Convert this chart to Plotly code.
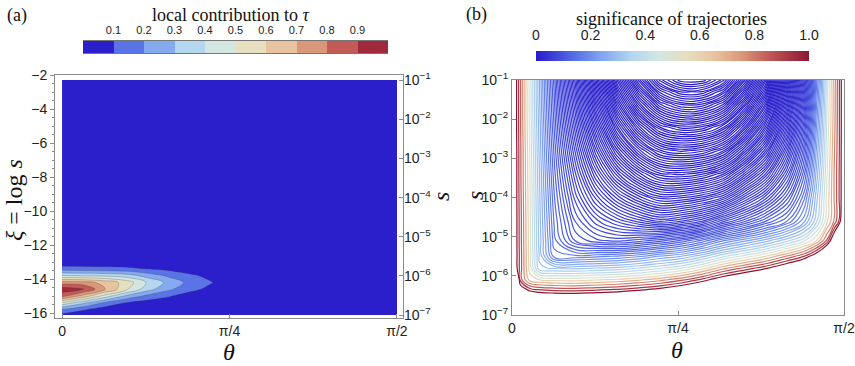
import numpy as np
import plotly.graph_objects as go
from plotly.colors import sample_colorscale

W, H = 855, 366
SERIF = "Liberation Serif, DejaVu Serif, serif"
SANS = "Liberation Sans, Arial, sans-serif"

# ---------------- panel (a): local contribution to tau ----------------
theta_a = [0, 0.1, 0.2, 0.3, 0.4, 0.5, 0.6, 0.7, 0.8, 1.0, np.pi / 2]
xi_a = [-16.12, -15.8, -15.4, -15.0, -14.6, -14.2, -13.8, -13.4, -13.0, -12.6, -2.3]
# rows follow xi_a, columns follow theta_a
tau_local = [
    [0.07, 0.03, 0.01, 0, 0, 0, 0, 0, 0, 0, 0],
    [0.19, 0.11, 0.04, 0.02, 0.01, 0, 0, 0, 0, 0, 0],
    [0.48, 0.32, 0.18, 0.09, 0.05, 0.03, 0.01, 0, 0, 0, 0],
    [0.83, 0.66, 0.46, 0.28, 0.17, 0.11, 0.05, 0.03, 0.01, 0, 0],
    [0.96, 0.91, 0.71, 0.52, 0.34, 0.22, 0.13, 0.07, 0.03, 0, 0],
    [0.75, 0.74, 0.67, 0.56, 0.39, 0.27, 0.17, 0.105, 0.04, 0, 0],
    [0.41, 0.39, 0.38, 0.35, 0.26, 0.18, 0.12, 0.07, 0.03, 0, 0],
    [0.14, 0.14, 0.13, 0.12, 0.095, 0.07, 0.04, 0.03, 0.01, 0, 0],
    [0.035, 0.03, 0.03, 0.03, 0.02, 0.02, 0.01, 0, 0, 0, 0],
    [0, 0, 0, 0, 0, 0, 0, 0, 0, 0, 0],
    [0, 0, 0, 0, 0, 0, 0, 0, 0, 0, 0],
]
bin_colors = [
    "rgb(43,31,204)", "rgb(90,116,232)", "rgb(134,170,240)", "rgb(180,214,238)",
    "rgb(211,230,226)", "rgb(230,223,192)", "rgb(232,195,160)", "rgb(218,152,122)",
    "rgb(194,90,88)", "rgb(160,42,60)",
]
bin_centers = [0.05, 0.15, 0.25, 0.35, 0.45, 0.55, 0.65, 0.75, 0.85, 0.95]
bin_ticks = [0.1, 0.2, 0.3, 0.4, 0.5, 0.6, 0.7, 0.8, 0.9]

xi_ticks = [-16, -14, -12, -10, -8, -6, -4, -2]
s_ticks = [1e-1, 1e-2, 1e-3, 1e-4, 1e-5, 1e-6, 1e-7]
s_labels = ["10<sup>−1</sup>", "10<sup>−2</sup>", "10<sup>−3</sup>", "10<sup>−4</sup>",
            "10<sup>−5</sup>", "10<sup>−6</sup>", "10<sup>−7</sup>"]
theta_ticks = [0, np.pi / 4, np.pi / 2]
theta_labels = ["0", "π/4", "π/2"]

# ---------------- panel (b): trajectories ----------------
theta_b = [0, 0.015, 0.04, 0.085, 0.13, 0.2, 0.3, 0.4, 0.5, 0.6, 0.7, 0.8, 0.9,
           1.0, 1.1, 1.2, 1.3, 1.38, 1.44, 1.49, 1.525, 1.55, 1.565, np.pi / 2]
logs_b = [-7, -6.6, -6.35, -6.1, -5.8, -5.5, -5.1, -4.6, -4.0, -3.4, -2.8, -2.2, -1.6, -1.3, -1.0]
# index of the trajectory through each (theta, log10 s) point; ~1 = outermost
traj_index = [
    [1.234, 1.188, 1.109, 1.091, 1.086, 1.083, 1.081, 1.084, 1.088, 1.094, 1.102, 1.118, 1.148, 1.160, 1.170, 1.180, 1.200, 1.219, 1.242, 1.273, 1.313, 1.352, 1.390, 1.422],
    [1.172, 1.125, 1.047, 1.028, 1.023, 1.020, 1.019, 1.022, 1.025, 1.031, 1.039, 1.050, 1.072, 1.086, 1.102, 1.117, 1.138, 1.156, 1.180, 1.211, 1.250, 1.289, 1.328, 1.359],
    [1.133, 1.086, 1.008, 0.989, 0.984, 0.981, 0.980, 0.983, 0.986, 0.992, 1.000, 1.011, 1.027, 1.047, 1.063, 1.078, 1.098, 1.117, 1.141, 1.172, 1.211, 1.250, 1.289, 1.320],
    [1.094, 1.047, 0.980, 0.950, 0.945, 0.942, 0.941, 0.944, 0.947, 0.953, 0.961, 0.972, 0.988, 1.008, 1.023, 1.039, 1.059, 1.078, 1.102, 1.133, 1.172, 1.211, 1.250, 1.281],
    [1.047, 1.004, 0.980, 0.940, 0.897, 0.893, 0.892, 0.895, 0.898, 0.905, 0.913, 0.924, 0.940, 0.961, 0.977, 0.992, 1.013, 1.031, 1.055, 1.086, 1.125, 1.164, 1.203, 1.234],
    [1.030, 1.003, 0.980, 0.939, 0.893, 0.840, 0.838, 0.842, 0.846, 0.853, 0.866, 0.875, 0.892, 0.913, 0.929, 0.945, 0.966, 0.984, 1.008, 1.039, 1.078, 1.117, 1.156, 1.188],
    [1.030, 1.003, 0.979, 0.938, 0.891, 0.829, 0.784, 0.768, 0.762, 0.770, 0.781, 0.797, 0.818, 0.844, 0.862, 0.880, 0.902, 0.921, 0.945, 0.977, 1.016, 1.055, 1.094, 1.125],
    [1.030, 1.003, 0.979, 0.937, 0.889, 0.823, 0.764, 0.728, 0.702, 0.680, 0.662, 0.674, 0.694, 0.731, 0.762, 0.794, 0.824, 0.860, 0.902, 0.942, 0.967, 0.988, 1.016, 1.047],
    [1.030, 1.003, 0.978, 0.936, 0.887, 0.816, 0.740, 0.680, 0.630, 0.590, 0.560, 0.563, 0.578, 0.605, 0.660, 0.710, 0.770, 0.830, 0.890, 0.938, 0.966, 0.987, 1.004, 1.010],
    [1.030, 1.003, 0.977, 0.935, 0.885, 0.809, 0.716, 0.632, 0.558, 0.500, 0.458, 0.452, 0.464, 0.494, 0.558, 0.626, 0.716, 0.800, 0.878, 0.934, 0.966, 0.987, 1.004, 1.010],
    [1.030, 1.003, 0.977, 0.934, 0.882, 0.802, 0.692, 0.584, 0.486, 0.410, 0.356, 0.341, 0.350, 0.383, 0.456, 0.542, 0.662, 0.770, 0.866, 0.931, 0.964, 0.986, 1.004, 1.010],
    [1.030, 1.002, 0.976, 0.932, 0.880, 0.794, 0.668, 0.536, 0.414, 0.320, 0.254, 0.230, 0.236, 0.272, 0.354, 0.458, 0.608, 0.740, 0.854, 0.927, 0.962, 0.986, 1.003, 1.010],
    [1.030, 1.002, 0.976, 0.931, 0.877, 0.787, 0.644, 0.488, 0.342, 0.230, 0.152, 0.119, 0.122, 0.161, 0.252, 0.374, 0.554, 0.710, 0.842, 0.924, 0.961, 0.986, 1.003, 1.010],
    [1.030, 1.002, 0.976, 0.931, 0.876, 0.784, 0.632, 0.464, 0.306, 0.186, 0.101, 0.064, 0.066, 0.106, 0.201, 0.332, 0.527, 0.696, 0.836, 0.922, 0.961, 0.986, 1.003, 1.010],
    [1.030, 1.002, 0.976, 0.930, 0.876, 0.780, 0.620, 0.440, 0.270, 0.140, 0.050, 0.008, 0.008, 0.050, 0.150, 0.290, 0.500, 0.680, 0.830, 0.920, 0.960, 0.986, 1.003, 1.010],
]
# significance of a trajectory versus its index
index_stops = [0.015, 0.3, 0.5, 0.65, 0.74, 0.8, 0.84, 0.87, 0.9, 0.92, 0.935, 0.945, 0.955, 0.965, 0.975, 0.985, 0.995]
signif_stops = [0, 0, 0.015, 0.04, 0.07, 0.11, 0.17, 0.24, 0.32, 0.4, 0.5, 0.6, 0.7, 0.78, 0.86, 0.93, 1.0]

cmap = [
    [0.0, "rgb(40,28,202)"], [0.15, "rgb(90,116,232)"], [0.25, "rgb(134,170,240)"],
    [0.35, "rgb(180,214,238)"], [0.45, "rgb(211,230,226)"], [0.55, "rgb(230,223,192)"],
    [0.65, "rgb(232,195,160)"], [0.75, "rgb(218,152,122)"], [0.85, "rgb(194,90,88)"],
    [1.0, "rgb(140,20,50)"],
]
sig_ticks = [0, 0.2, 0.4, 0.6, 0.8, 1.0]
sig_labels = ["0", "0.2", "0.4", "0.6", "0.8", "1.0"]

# colour scales
cs_a = [[k / 9, c] for k, c in enumerate(bin_colors)]
line_cols = sample_colorscale(cmap, signif_stops)
lo, hi = index_stops[0], index_stops[-1]
cs_lines = [[(q - lo) / (hi - lo), c] for q, c in zip(index_stops, line_cols)]


def fx(px):
    return px / W


def fy(py):
    return 1 - py / H


frame = "#8a8a8a"
tickfont = dict(family=SANS, size=14, color="#222")

fig = go.Figure()

fig.add_trace(go.Contour(
    x=theta_a, y=xi_a, z=tau_local, xaxis="x", yaxis="y",
    autocontour=False, zmin=0, zmax=1,
    contours=dict(start=0.1, end=0.9, size=0.1, coloring="fill", showlines=True),
    line=dict(color="rgba(60,60,60,0.45)", width=0.6, smoothing=1),
    colorscale=cs_a, showscale=False, hoverinfo="skip",
))
fig.add_trace(go.Scatter(x=[0.5], y=[1e-3], xaxis="x", yaxis="y2", mode="markers",
                         marker=dict(opacity=0), showlegend=False, hoverinfo="skip"))

fig.add_trace(go.Contour(
    x=theta_b, y=logs_b, z=traj_index, xaxis="x2", yaxis="y3",
    autocontour=False,
    contours=dict(start=lo, end=hi, size=0.01, coloring="lines"),
    line=dict(width=1.2, smoothing=1.3),
    colorscale=cs_lines, showscale=False, hoverinfo="skip",
))

# colour bars drawn as small heatmaps
fig.add_trace(go.Heatmap(x=bin_centers, y=[0], z=[list(range(10))], xaxis="x3", yaxis="y4",
                         zmin=0, zmax=9, colorscale=cs_a, showscale=False, hoverinfo="skip"))
fig.add_trace(go.Heatmap(x=[0, 1], y=[0, 1], z=[[0, 1], [0, 1]], xaxis="x4", yaxis="y5",
                         zmin=0, zmax=1, zsmooth="best", colorscale=cmap,
                         showscale=False, hoverinfo="skip"))

common = dict(showgrid=False, zeroline=False, tickfont=tickfont, automargin=False)

fig.update_layout(
    template="none",
    width=W, height=H, margin=dict(l=0, r=0, t=0, b=0, autoexpand=False),
    paper_bgcolor="white", plot_bgcolor="white", showlegend=False,
    xaxis=dict(domain=[fx(55), fx(403)], range=[-0.033, 1.599], anchor="y",
               tickvals=theta_ticks, ticktext=theta_labels, ticks="inside", ticklen=4,
               tickcolor=frame, showline=True, mirror=True, linecolor=frame, **common),
    yaxis=dict(domain=[fy(318), fy(75)], range=[-16.29, -2], anchor="x",
               tickvals=xi_ticks, ticks="outside", ticklen=4, tickcolor=frame,
               minor=dict(dtick=0.5, ticks="outside", ticklen=2, tickcolor=frame),
               showline=True, mirror=True, linecolor=frame, **common),
    yaxis2=dict(overlaying="y", side="right", anchor="x", type="log",
                range=[-7.0747, -0.8686], tickvals=s_ticks, ticktext=s_labels,
                ticks="inside", ticklen=4, tickcolor=frame, showline=False, **common),
    xaxis2=dict(domain=[fx(512), fx(844)], range=[0, np.pi / 2], anchor="y3",
                tickvals=theta_ticks, ticktext=theta_labels, ticks="inside", ticklen=4,
                tickcolor=frame, showline=True, mirror=True, linecolor=frame, **common),
    yaxis3=dict(domain=[fy(315), fy(80)], range=[-7, -1], anchor="x2",
                tickvals=[-1, -2, -3, -4, -5, -6, -7], ticktext=s_labels,
                ticks="inside", ticklen=4, tickcolor=frame,
                showline=True, mirror=True, linecolor=frame, **common),
    xaxis3=dict(domain=[fx(83), fx(388)], range=[0, 1], anchor="y4", side="top",
                tickvals=bin_ticks, ticks="outside", ticklen=2, tickcolor="rgba(0,0,0,0)",
                showline=True, mirror=True, linecolor="#777", linewidth=0.6,
                showgrid=False, zeroline=False, automargin=False,
                tickfont=dict(family=SANS, size=11, color="#222")),
    yaxis4=dict(domain=[fy(53), fy(41)], range=[-0.5, 0.5], anchor="x3", visible=False),
    xaxis4=dict(domain=[fx(536), fx(809)], range=[0, 1], anchor="y5", side="top",
                tickvals=sig_ticks, ticktext=sig_labels, ticks="outside", ticklen=4,
                tickcolor="rgba(0,0,0,0)", showline=False,
                showgrid=False, zeroline=False, automargin=False,
                tickfont=dict(family=SANS, size=14, color="#222")),
    yaxis5=dict(domain=[fy(61), fy(51)], range=[0, 1], anchor="x4", visible=False),
)

ann = [
    dict(text="(a)", x=fx(5), y=fy(15), xanchor="left", size=18),
    dict(text="local contribution to <i>τ</i>", x=fx(230), y=fy(15), xanchor="center", size=18),
    dict(text="(b)", x=fx(464), y=fy(14), xanchor="left", size=18),
    dict(text="significance of trajectories", x=fx(671), y=fy(19), xanchor="center", size=18),
    dict(text="<i>ξ</i> = log <i>s</i>", x=fx(14), y=fy(200), xanchor="center", size=24, angle=-90),
    dict(text="<i>s</i>", x=fx(441), y=fy(197), xanchor="center", size=24, angle=-90),
    dict(text="<i>s</i>", x=fx(475), y=fy(196), xanchor="center", size=24, angle=-90),
    dict(text="<i>θ</i>", x=fx(229), y=fy(352), xanchor="center", size=24),
    dict(text="<i>θ</i>", x=fx(677), y=fy(350), xanchor="center", size=24),
]
for a in ann:
    fig.add_annotation(text=a["text"], x=a["x"], y=a["y"], xref="paper", yref="paper",
                       xanchor=a["xanchor"], yanchor="middle", showarrow=False,
                       textangle=a.get("angle", 0),
                       font=dict(family=SERIF, size=a["size"], color="#111"))

fig.write_html("out.html", config={"displayModeBar": False},
               post_script="document.body.style.margin='0px';")
